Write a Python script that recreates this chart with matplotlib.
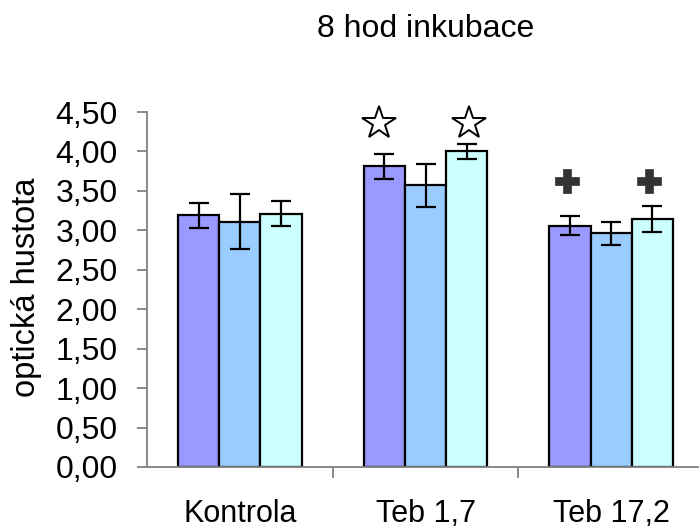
import matplotlib
matplotlib.use("Agg")
import matplotlib.pyplot as plt
import numpy as np

plt.rcParams['font.family'] = ['Liberation Sans', 'DejaVu Sans']

categories = ["Kontrola", "Teb 1,7", "Teb 17,2"]
series_a = [3.19, 3.81, 3.06]
series_b = [3.11, 3.57, 2.96]
series_c = [3.21, 4.00, 3.14]
err_a = [0.155, 0.155, 0.12]
err_b = [0.35, 0.27, 0.15]
err_c = [0.16, 0.095, 0.165]
star_marks = [(1, 0), (1, 2)]      # (group, bar) pairs marked with a star
plus_marks = [(2, 0), (2, 2)]      # (group, bar) pairs marked with a plus
star_level = 4.36
plus_level = 3.62
yticks = [0.0, 0.5, 1.0, 1.5, 2.0, 2.5, 3.0, 3.5, 4.0, 4.5]
title = "8 hod inkubace"
ylabel = "optická hustota"

colors = ["#9999FF", "#99CCFF", "#CCFFFF"]
W, H = 699, 530
fig = plt.figure(figsize=(W / 100, H / 100), dpi=100)
ax = fig.add_axes([147 / W, (H - 467) / H, (704 - 147) / W, (467 - 112) / H])

x = np.arange(len(categories))
bw = 0.222
offsets = [-bw, 0, bw]
values = [series_a, series_b, series_c]
errs = [err_a, err_b, err_c]
for k in range(3):
    ax.bar(x + offsets[k], values[k], width=bw, color=colors[k],
           edgecolor="black", linewidth=1.6, zorder=2)
    ax.errorbar(x + offsets[k], values[k], yerr=errs[k], fmt="none",
                ecolor="black", elinewidth=1.6, capsize=7.5, capthick=1.6, zorder=3)

for g, b in star_marks:
    shift = -0.03 if b == 0 else 0.01
    ax.plot(x[g] + offsets[b] + shift, star_level, marker="*", ms=25,
            mfc="white", mec="black", mew=1.4, ls="none", zorder=4, clip_on=False)
for g, b in plus_marks:
    ax.plot(x[g] + offsets[b] - 0.018, plus_level, marker="P", ms=17,
            mfc="#333333", mec="#333333", mew=0.5, ls="none", zorder=4, clip_on=False)

ax.set_xlim(-0.5, 2.5)
ax.set_ylim(0, 4.5)
ax.set_yticks(yticks)
ax.set_yticklabels([f"{v:.2f}".replace(".", ",") for v in yticks])
ax.set_xticks(x)
ax.set_xticklabels(categories)
ax.set_xticks([0.5, 1.5], minor=True)

for s in ["top", "right"]:
    ax.spines[s].set_visible(False)
for s in ["left", "bottom"]:
    ax.spines[s].set_color("#808080")
    ax.spines[s].set_linewidth(1.3)

ax.tick_params(axis="y", direction="out", length=7, width=1.3, color="#808080",
               labelsize=23, pad=14)
ax.tick_params(axis="x", which="major", length=0, labelsize=22, pad=23)
ax.tick_params(axis="x", which="minor", direction="out", length=8, width=1.3,
               color="#808080")

fig.text(27 / W, 1 - 287 / H, ylabel, rotation=90, ha="center", va="center",
         fontsize=23.5)
fig.text(425.5 / W, 1 - 37 / H, title, ha="center", va="baseline", fontsize=23)

fig.savefig("out.png", dpi=100)
